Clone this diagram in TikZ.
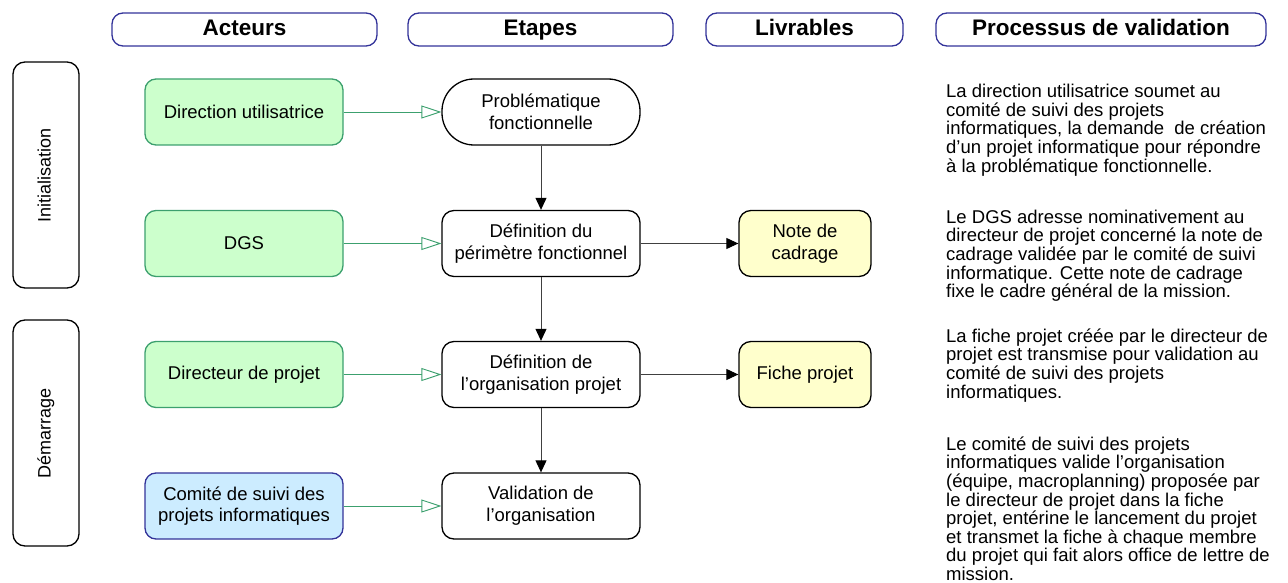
\documentclass[tikz,border=0pt]{standalone}
\usepackage{fontspec}
\setmainfont{Liberation Sans}
\usetikzlibrary{arrows.meta}
\definecolor{hdrblue}{RGB}{51,51,153}
\definecolor{grnborder}{RGB}{60,160,110}
\definecolor{grnfill}{RGB}{204,255,204}
\definecolor{bluefill}{RGB}{204,236,255}
\definecolor{yelfill}{RGB}{255,255,204}
\newcommand{\toprule}{\rule{0pt}{18pt}}
\begin{document}
\begin{tikzpicture}[x=1pt,y=-1pt,
  hdr/.style={draw=hdrblue, line width=1.3pt, rounded corners=11pt, minimum height=33pt, inner sep=0pt, text height=16pt, text depth=4.5pt, font=\fontsize{22.5}{26}\selectfont\bfseries},
  phase/.style={draw=black, line width=1.3pt, rounded corners=12pt, rotate=90, minimum width=226pt, minimum height=66pt, inner sep=0pt, text height=13pt, text depth=4pt, font=\fontsize{18}{21}\selectfont},
  actor/.style={draw=grnborder, fill=grnfill, line width=1.3pt, rounded corners=11pt, minimum width=198pt, minimum height=66pt, inner sep=0pt, align=center, font=\fontsize{18.5}{21.7}\selectfont},
  actorb/.style={actor, draw=hdrblue, fill=bluefill},
  etape/.style={draw=black, line width=1.3pt, rounded corners=12pt, minimum width=198pt, minimum height=66pt, inner sep=0pt, align=center, font=\fontsize{18.5}{21.7}\selectfont},
  etapestad/.style={etape, rounded corners=32pt},
  livr/.style={draw=black, fill=yelfill, line width=1.3pt, rounded corners=12pt, minimum width=132pt, minimum height=66pt, inner sep=0pt, align=center, font=\fontsize{18.5}{21.7}\selectfont},
  proc/.style={anchor=north west, inner sep=0pt, align=left, font=\fontsize{18.5}{18.6}\selectfont},
  garrow/.style={draw=grnborder, line width=0.9pt, -{Triangle[open, length=20pt, width=13pt, line width=0.9pt]}},
  barrow/.style={draw=black!75, line width=1pt, -{Triangle[length=12pt, width=11pt, color=black]}}
]
\useasboundingbox (0,0) rectangle (1288,583);
% headers
\node[hdr, minimum width=265pt] (hA) at (244.5,29.5) {Acteurs};
\node[hdr, minimum width=265pt] (hE) at (540.5,29.5) {Etapes};
\node[hdr, minimum width=197pt] (hL) at (804.5,29.5) {Livrables};
\node[hdr, minimum width=330pt] (hP) at (1101,29.5) {Processus de validation};
% phases
\node[phase] (ph1) at (46,175) {Initialisation};
\node[phase] (ph2) at (46,433) {Démarrage};
% actors
\node[actor] (a1) at (244,112) {Direction utilisatrice};
\node[actor] (a2) at (244,243.5) {DGS};
\node[actor] (a3) at (244,374.5) {Directeur de projet};
\node[actorb] (a4) at (244,506) {Comité de suivi des\\projets informatiques};
% etapes
\node[etapestad] (e1) at (541,112) {Problématique\\fonctionnelle};
\node[etape] (e2) at (541,243.5) {Définition du\\périmètre fonctionnel};
\node[etape] (e3) at (541,374.5) {Définition de\\l’organisation projet};
\node[etape] (e4) at (541,506) {Validation de\\l’organisation};
% livrables
\node[livr] (l1) at (805,243.5) {Note de\\cadrage};
\node[livr] (l2) at (805,374.5) {Fiche projet};
% process texts
\node[proc] (p1) at (946,79.5) {\toprule La direction utilisatrice soumet au\\comité de suivi des projets\\informatiques, la demande\ \ de création\\d’un projet informatique pour répondre\\à la problématique fonctionnelle.};
\node[proc] (p2) at (946,205) {\toprule Le DGS adresse nominativement au\\directeur de projet concerné la note de\\cadrage validée par le comité de suivi\\informatique. Cette note de cadrage\\fixe le cadre général de la mission.};
\node[proc] (p3) at (946,324) {\toprule La fiche projet créée par le directeur de\\projet est transmise pour validation au\\comité de suivi des projets\\informatiques.};
\node[proc] (p4) at (946,432) {\toprule Le comité de suivi des projets\\informatiques valide l’organisation\\(équipe, macroplanning) proposée par\\le directeur de projet dans la fiche\\projet, entérine le lancement du projet\\et transmet la fiche à chaque membre\\du projet qui fait alors office de lettre de\\mission.};
% connectors
\draw[garrow] (a1) -- (e1);
\draw[garrow] (a2) -- (e2);
\draw[garrow] (a3) -- (e3);
\draw[garrow] (a4) -- (e4);
\draw[barrow] (e1) -- (e2);
\draw[barrow] (e2) -- (e3);
\draw[barrow] (e3) -- (e4);
\draw[barrow] (e2) -- (l1);
\draw[barrow] (e3) -- (l2);
\end{tikzpicture}
\end{document}
